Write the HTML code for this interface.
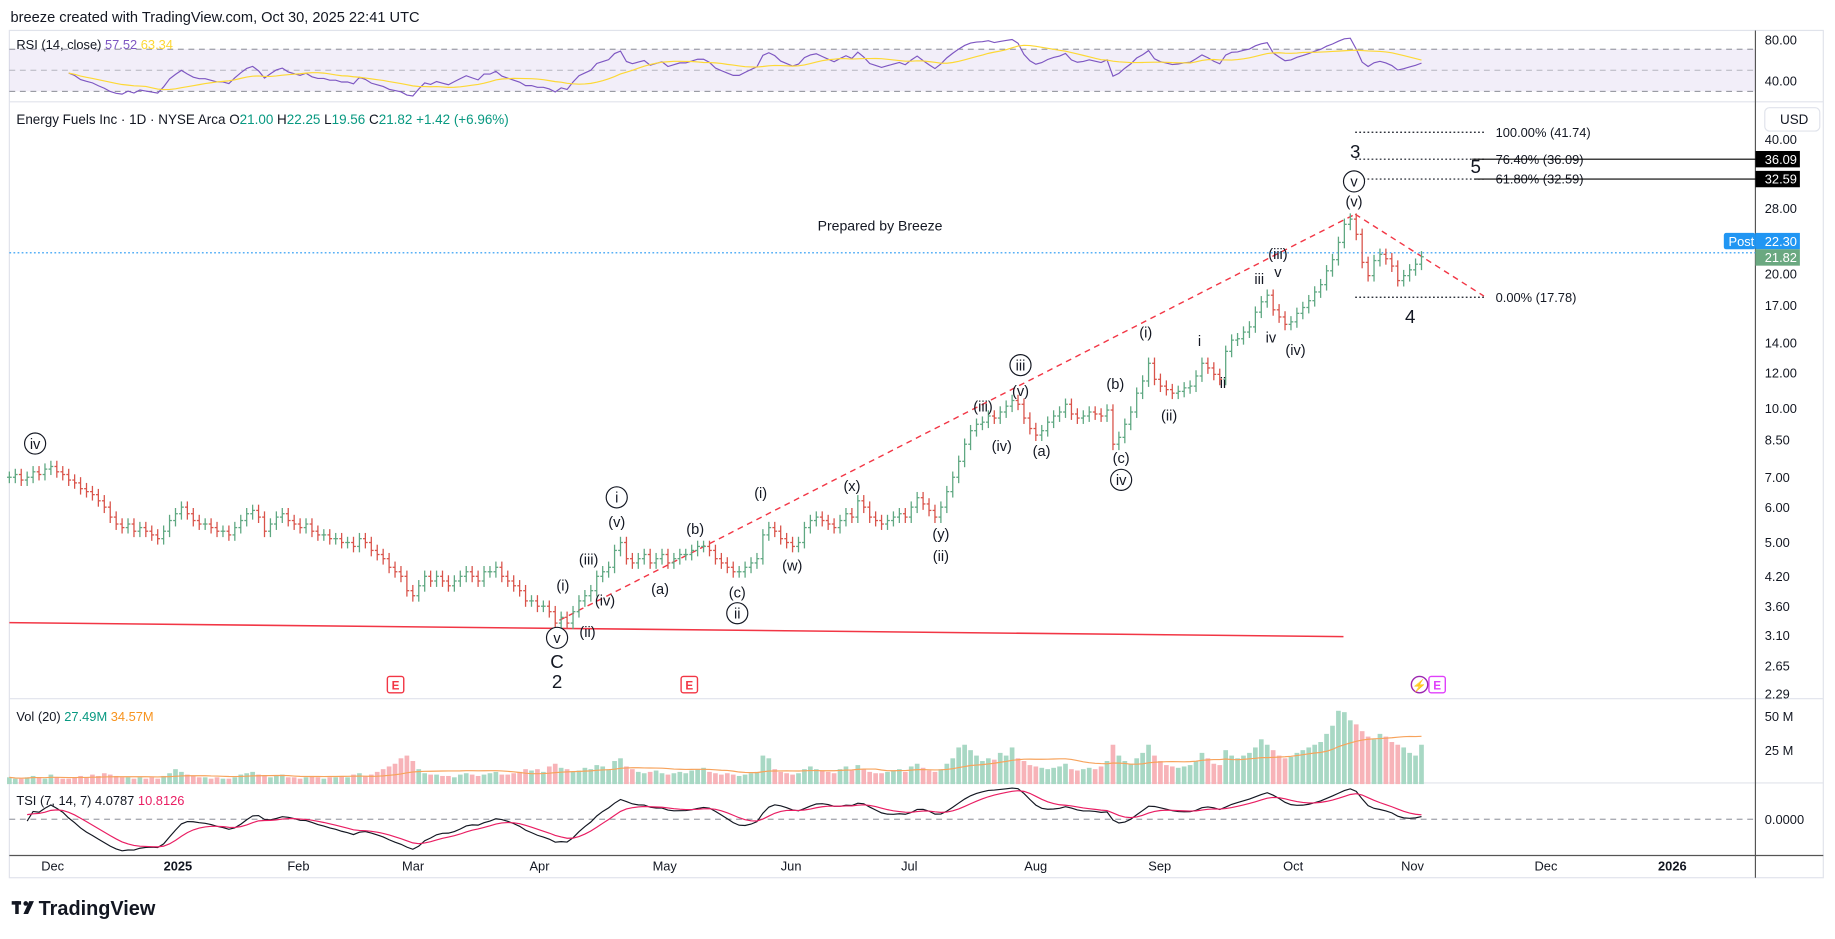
<!DOCTYPE html>
<html><head><meta charset="utf-8"><style>
html,body{margin:0;padding:0;background:#fff;}
svg{display:block;font-family:"Liberation Sans",sans-serif;}
</style></head><body>
<svg id="c" width="1835" height="939" viewBox="0 0 1568 802.35" xmlns="http://www.w3.org/2000/svg">
<rect x="0" y="0" width="1568" height="803" fill="#fff"/>
<text x="9" y="19" font-size="12.5" fill="#131722">breeze created with TradingView.com, Oct 30, 2025 22:41 UTC</text>
<rect x="8" y="26" width="1550" height="724" fill="none" stroke="#e0e3eb"/>
<g id="rsiPane">
<rect x="8" y="42" width="1492" height="36" fill="#7e57c2" fill-opacity="0.1"/>
<line x1="8" x2="1500" y1="42" y2="42" stroke="#787b86" stroke-dasharray="5,4" stroke-width="0.8"/>
<line x1="8" x2="1500" y1="60" y2="60" stroke="#787b86" stroke-opacity="0.5" stroke-dasharray="5,4" stroke-width="0.8"/>
<line x1="8" x2="1500" y1="78" y2="78" stroke="#787b86" stroke-dasharray="5,4" stroke-width="0.8"/>
<text x="14" y="42" font-size="11" fill="#131722">RSI (14, close) <tspan fill="#7e57c2">57.52</tspan> <tspan fill="#fdd835">63.34</tspan></text>
<text x="1508" y="38" font-size="11" fill="#131722">80.00</text>
<text x="1508" y="73" font-size="11" fill="#131722">40.00</text>
</g>
<g id="lines">
<line x1="8" x2="1558" y1="87" y2="87" stroke="#e0e3eb"/>
<line x1="8" x2="1558" y1="597" y2="597" stroke="#e0e3eb"/>
<line x1="8" x2="1558" y1="669" y2="669" stroke="#e0e3eb"/>
<line x1="8" x2="1558" y1="731" y2="731" stroke="#555"/>
<line x1="1500" x2="1500" y1="26" y2="750" stroke="#555"/>
</g>
<text x="14" y="106" font-size="11.5" fill="#131722">Energy Fuels Inc · 1D · NYSE Arca <tspan fill="#131722">O</tspan><tspan fill="#089981">21.00</tspan> <tspan fill="#131722">H</tspan><tspan fill="#089981">22.25</tspan> <tspan fill="#131722">L</tspan><tspan fill="#089981">19.56</tspan> <tspan fill="#131722">C</tspan><tspan fill="#089981">21.82</tspan> <tspan fill="#089981">+1.42 (+6.96%)</tspan></text>
<g><rect x="1508" y="92" width="47" height="20" rx="4" fill="#fff" stroke="#e0e3eb"/><text x="1521" y="106" font-size="11.5" fill="#131722">USD</text></g>
<g id="priceAxis"></g>
<g id="draw"></g>
<g id="bars"></g>
<g id="vol"></g>
<g id="tsi"></g>
<g id="rsi"></g>
<g id="labels"></g>
<g id="timeAxis"></g>
<g>
<rect x="10" y="770" width="8" height="3" fill="#131722"/><rect x="13" y="770" width="3" height="11" fill="#131722"/>
<circle cx="22" cy="772" r="2" fill="#131722"/><polygon points="25,770 29,770 24,781 20,781" fill="#131722"/>
<text x="33" y="782" font-size="17" font-weight="bold" fill="#131722">TradingView</text>
</g>
</svg>
<script>
const closes=[7.0,7.1,6.9,7.0,7.2,7.1,7.3,7.4,
7.2,7.1,6.9,6.8,6.6,6.5,6.4,6.2,
6.0,5.7,5.5,5.4,5.5,5.3,5.4,5.3,
5.2,5.1,5.3,5.6,5.8,6.0,5.8,5.6,
5.5,5.5,5.4,5.3,5.3,5.2,5.4,5.6,
5.8,5.9,5.7,5.3,5.5,5.7,5.8,5.6,
5.5,5.4,5.5,5.3,5.2,5.2,5.1,5.1,
5.0,5.0,4.9,5.1,5.0,4.8,4.7,4.6,
4.4,4.3,4.2,3.9,3.8,4.0,4.2,4.1,
4.2,4.1,4.0,4.1,4.2,4.3,4.2,4.1,
4.3,4.3,4.4,4.2,4.1,4.0,3.9,3.7,
3.7,3.6,3.6,3.5,3.3,3.4,3.3,3.5,
3.7,3.8,3.9,4.2,4.3,4.4,4.8,5.0,
4.6,4.5,4.6,4.7,4.5,4.6,4.7,4.5,
4.6,4.7,4.7,4.8,4.9,4.9,4.8,4.6,
4.5,4.4,4.3,4.3,4.4,4.5,4.6,5.2,
5.4,5.3,5.1,5.0,4.9,5.0,5.4,5.6,
5.7,5.6,5.5,5.4,5.6,5.8,5.7,6.2,
6.0,5.7,5.6,5.5,5.6,5.7,5.8,5.7,
6.0,6.3,6.1,5.9,5.7,6.0,6.5,7.0,
7.6,8.3,8.9,9.2,9.3,9.6,9.5,9.8,
10.1,10.4,10.2,9.5,9.0,8.7,8.9,9.3,
9.6,9.8,10.2,9.7,9.5,9.6,9.8,9.7,
9.6,9.9,8.3,8.6,9.2,9.8,10.8,11.5,
12.6,11.6,11.2,11.0,10.8,10.9,11.1,11.2,
11.8,12.6,12.3,11.9,11.6,13.4,14.2,14.3,
14.8,15.2,16.4,17.3,17.9,16.6,16.0,15.4,
15.6,16.3,16.8,17.4,18.2,18.9,20.3,21.5,
23.5,25.8,26.5,24.5,21.2,19.8,21.4,22.1,
21.6,20.8,19.3,19.8,20.4,21.0,21.82];
const volumes=[5,4,4,5,6,5,4,7,
5,4,4,5,6,5,7,6,
8,7,6,5,5,4,5,4,
5,4,6,8,11,9,7,6,
5,5,4,5,4,4,5,7,
8,9,7,6,5,6,7,5,
5,4,5,6,5,4,5,5,
6,5,7,8,6,7,9,11,
13,15,19,21,17,11,8,7,
7,6,6,5,7,8,7,6,
7,8,9,7,7,8,9,11,
10,11,9,13,15,12,11,9,
10,12,11,14,13,11,17,19,
13,11,9,8,9,10,8,7,
8,9,8,10,11,12,9,8,
7,8,7,6,7,8,9,21,
19,11,9,8,7,8,11,13,
11,10,9,8,11,13,10,14,
11,9,8,8,9,10,11,9,
13,15,12,10,9,11,15,19,
27,29,25,21,17,19,18,23,
21,27,19,17,14,13,12,11,
12,13,15,11,10,11,12,11,
13,17,29,21,17,15,19,23,
29,21,17,14,13,12,13,14,
17,23,19,15,14,25,21,19,
21,23,27,33,29,25,21,19,
20,23,25,27,29,31,37,43,
54,53,47,44,39,35,33,37,
35,31,29,27,23,21,29];
const monthLabels=["Dec","2025","Feb","Mar","Apr","May","Jun","Jul","Aug","Sep","Oct","Nov","Dec","2026"];
const priceTicks=[40,28,20,17,14,12,10,8.5,7,6,5,4.2,3.6,3.1,2.65,2.29];
const NS="http://www.w3.org/2000/svg";
function mk(tag,attrs,parent,txt){const e=document.createElementNS(NS,tag);for(const k in attrs)e.setAttribute(k,attrs[k]);if(txt!==undefined)e.textContent=txt;parent.appendChild(e);return e;}
const $=id=>document.getElementById(id);
const xOf=i=>8+i*5.07;
const yP=p=>119+(Math.log(40)-Math.log(p))*165.7;
const yVol=v=>670-v*1.16;
const yRsi=r=>60-(r-50)*0.72;
const monthX=[45,152,255,353,461,568,676,777,885,991,1105,1207,1321,1429];
const pa=$("priceAxis");
priceTicks.forEach(p=>{const t=mk("text",{x:1508,y:yP(p)+4,"font-size":11,fill:"#131722"},pa,p.toFixed(2));

});
const ta=$("timeAxis");
monthLabels.forEach((m,i)=>{const t=mk("text",{x:monthX[i],y:744,"font-size":11,fill:"#131722","text-anchor":"middle","font-weight":(m==="2025"||m==="2026")?"bold":"normal"},ta,m);

});
const bg=$("bars");
closes.forEach((c,i)=>{const o=i?closes[i-1]:c;const up=c>=o;const col=up?"#5fa882":"#d9534a";
const hi=Math.max(o,c)*1.03,lo=Math.min(o,c)*0.97;const x=xOf(i);
const g=mk("g",{stroke:col,"stroke-width":1.1},bg);


mk("line",{x1:x,x2:x,y1:yP(hi),y2:yP(lo)},g);
mk("line",{x1:x-2,x2:x,y1:yP(o),y2:yP(o)},g);
mk("line",{x1:x,x2:x+2,y1:yP(c),y2:yP(c)},g);});
const vg=$("vol");
const vt=mk("text",{x:14,y:616,"font-size":11,fill:"#131722"},vg);vt.innerHTML='Vol (20) <tspan fill="#089981">27.49M</tspan> <tspan fill="#f7931e">34.57M</tspan>';
mk("text",{x:1508,y:616,"font-size":11,fill:"#131722"},vg,"50 M");
mk("text",{x:1508,y:645,"font-size":11,fill:"#131722"},vg,"25 M");
volumes.forEach((v,i)=>{const up=i===0||closes[i]>=closes[i-1];
const r=mk("rect",{x:xOf(i)-2,y:yVol(v),width:4,height:v*1.16,fill:up?"#a8d8c4":"#f7b3b8"},vg);

});
let ma=[],s=0;volumes.forEach((v,i)=>{s+=v;if(i>=20)s-=volumes[i-20];ma.push(s/Math.min(i+1,20));});
mk("polyline",{points:ma.map((m,i)=>xOf(i)+","+yVol(m)).join(" "),fill:"none",stroke:"#f7a35c","stroke-width":1},vg);
const rg=$("rsi");let ag=0,al=0,rsi=[];
for(let i=1;i<closes.length;i++){const d=closes[i]-closes[i-1];const g=Math.max(d,0),l=Math.max(-d,0);
if(i<=14){ag+=g/14;al+=l/14;}else{ag=(ag*13+g)/14;al=(al*13+l)/14;}
if(i>=10)rsi.push([i,al===0?100:100-100/(1+ag/al)]);}
let rm=[],acc=[];rsi.forEach(([i,v])=>{acc.push(v);if(acc.length>14)acc.shift();rm.push([i,acc.reduce((a,b)=>a+b)/acc.length]);});
const rl=mk("polyline",{points:rsi.map(([i,v])=>xOf(i)+","+yRsi(v)).join(" "),fill:"none",stroke:"#7e57c2","stroke-width":1},rg);


const rml=mk("polyline",{points:rm.map(([i,v])=>xOf(i)+","+yRsi(v)).join(" "),fill:"none",stroke:"#fdd835","stroke-width":1},rg);


const tg=$("tsi");
const tt=mk("text",{x:14,y:688,"font-size":11,fill:"#131722"},tg);tt.innerHTML='TSI (7, 14, 7) <tspan fill="#131722">4.0787</tspan> <tspan fill="#e91e63">10.8126</tspan>';
mk("line",{x1:8,x2:1500,y1:700,y2:700,stroke:"#787b86","stroke-dasharray":"5,4","stroke-width":0.8},tg);
mk("text",{x:1508,y:704,"font-size":11,fill:"#131722"},tg,"0.0000");
function ema(arr,n){const k=2/(n+1);let out=[],p=arr[0];arr.forEach(v=>{p=v*k+p*(1-k);out.push(p);});return out;}
const pc=closes.map((c,i)=>i?Math.log(c/closes[i-1]):0);
const num=ema(ema(pc,14),7),den=ema(ema(pc.map(Math.abs),14),7);
const tsi=num.map((n,i)=>den[i]?100*n/den[i]:0);const sig=ema(tsi,7);
const mx=Math.max(...tsi.slice(5).map(Math.abs));const yT=v=>700-v/mx*27;
const tl=mk("polyline",{points:tsi.map((v,i)=>xOf(i)+","+yT(v)).slice(3).join(" "),fill:"none",stroke:"#131722","stroke-width":1},tg);


const sl=mk("polyline",{points:sig.map((v,i)=>xOf(i)+","+yT(v)).slice(3).join(" "),fill:"none",stroke:"#e91e63","stroke-width":1},tg);


const dg=$("draw");
mk("line",{x1:8,x2:1148,y1:532,y2:544,stroke:"#f23645","stroke-width":1.3},dg);
mk("line",{x1:478,x2:1158,y1:530,y2:183,stroke:"#f23645","stroke-width":1.2,"stroke-dasharray":"5,4"},dg);
mk("line",{x1:1158,x2:1268,y1:183,y2:253,stroke:"#f23645","stroke-width":1.2,"stroke-dasharray":"5,4"},dg);
mk("line",{x1:8,x2:1500,y1:216,y2:216,stroke:"#2196f3","stroke-dasharray":"1.5,2","stroke-width":1},dg);
[[113,"100.00% (41.74)"],[136,"76.40% (36.09)"],[153,"61.80% (32.59)"],[254,"0.00% (17.78)"]].forEach(([y,t])=>{
mk("line",{x1:1158,x2:1270,y1:y,y2:y,stroke:"#131722","stroke-dasharray":"1.5,2","stroke-width":1},dg);
mk("text",{x:1278,y:y+4,"font-size":11,fill:"#131722"},dg,t);});
mk("line",{x1:1258,x2:1500,y1:136,y2:136,stroke:"#000","stroke-width":1},dg);
mk("line",{x1:1260,x2:1500,y1:153,y2:153,stroke:"#000","stroke-width":1},dg);
mk("rect",{x:1500,y:129,width:38,height:14,fill:"#000"},dg);mk("text",{x:1508,y:140,"font-size":11,fill:"#fff"},dg,"36.09");
mk("rect",{x:1500,y:146,width:38,height:14,fill:"#000"},dg);mk("text",{x:1508,y:157,"font-size":11,fill:"#fff"},dg,"32.59");
mk("rect",{x:1473,y:199,width:27,height:14,fill:"#2196f3",rx:2},dg);mk("text",{x:1477,y:210,"font-size":11,fill:"#fff"},dg,"Post");
mk("rect",{x:1500,y:199,width:38,height:14,fill:"#2196f3"},dg);mk("text",{x:1508,y:210,"font-size":11,fill:"#fff"},dg,"22.30");
mk("rect",{x:1500,y:213,width:38,height:14,fill:"#6aa880"},dg);mk("text",{x:1508,y:224,"font-size":11,fill:"#fff"},dg,"21.82");
mk("text",{x:752,y:197,"font-size":12,fill:"#131722","text-anchor":"middle"},dg,"Prepared by Breeze");
[[338,"#f23645"],[589,"#f23645"],[1228,"#e040fb"]].forEach(([x,c])=>{const g=mk("g",{},dg);


mk("rect",{x:x-7,y:578,width:14,height:14,rx:2,fill:"#fff",stroke:c,"stroke-width":1.2},g);
mk("text",{x:x,y:589,"font-size":10,fill:c,"text-anchor":"middle","font-weight":"bold"},g,"E");});
mk("circle",{cx:1213,cy:585,r:7,fill:"#fff",stroke:"#9c27b0","stroke-width":1.2},dg);
mk("text",{x:1213,y:589,"font-size":10,fill:"#9c27b0","text-anchor":"middle"},dg,"⚡");
const lg=$("labels");
const labels=[["iv",30,379,1],["v",476,545,1],["C",476,566,0,16],["2",476,583,0,16],["(i)",481,500],["(ii)",502,540],["(iii)",503,478],["(iv)",517,513],["i",527,425,1],["(v)",527,446],
["(a)",564,503],["(b)",594,452],["(c)",630,506],["ii",630,524,1],["(i)",650,421],["(w)",677,483],["(x)",728,415],["(y)",804,456],["(ii)",804,475],
["(iii)",840,347],["(iv)",856,381],["iii",872,312,1],["(v)",872,334],["(a)",890,385],["(b)",953,328],["(c)",958,391],["iv",958,410,1],
["(i)",979,284],["(ii)",999,355],["i",1025,291],["ii",1045,327],["iii",1076,238],["(iii)",1092,217],["v",1092,232],["iv",1086,288],["(iv)",1107,299],
["3",1158,130,0,16],["v",1157,155,1],["(v)",1157,172],["5",1261,143,0,16],["4",1205,271,0,16]];
labels.forEach(([t,x,y,circ,fs])=>{const g=mk("g",{},lg);


if(circ)mk("circle",{cx:x,cy:y,r:9,fill:"#fff",stroke:"#131722","stroke-width":1},g);
mk("text",{x:x,y:y+(fs?5:4.5),"font-size":fs||12.5,fill:"#131722","text-anchor":"middle"},g,t);});
</script>
</body></html>
